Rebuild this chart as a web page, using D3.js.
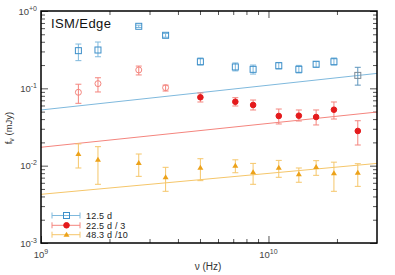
<!DOCTYPE html>
<html>
<head>
<meta charset="utf-8">
<script src="https://cdn.jsdelivr.net/npm/d3@7"></script>
<style>
  body { margin: 0; background: #fff; }
  text { font-family: "Liberation Sans", Arial, sans-serif; }
</style>
</head>
<body>
<svg id="chart" width="395" height="275"></svg>
<script>
// frequencies (Hz)
const freqs = [1.46e9, 1.78e9, 2.69e9, 3.53e9, 5.02e9, 7.15e9, 8.56e9, 1.11e10, 1.36e10, 1.62e10, 1.94e10, 2.47e10]

// 12.5 d
const blueVal = [0.307, 0.313, 0.634, 0.485, 0.221, 0.189, 0.176, 0.196, 0.176, 0.205, 0.221, 0.147]
const blueLo  = [0.228, 0.256, 0.612, 0.458, 0.200, 0.168, 0.153, 0.178, 0.158, 0.187, 0.200, 0.110]
const blueHi  = [0.374, 0.397, 0.656, 0.512, 0.247, 0.213, 0.200, 0.216, 0.198, 0.222, 0.247, 0.187]

// 22.5 d / 3
const redVal = [0.0889, 0.115, 0.173, 0.102, 0.0766, 0.0671, 0.0609, 0.0439, 0.0443, 0.0426, 0.0529, 0.0281]
const redLo  = [0.064, 0.0897, 0.149, 0.0923, 0.0666, 0.0591, 0.0525, 0.0346, 0.0378, 0.0336, 0.0401, 0.0185]
const redHi  = [0.113, 0.137, 0.194, 0.110, 0.087, 0.0757, 0.0706, 0.054, 0.0525, 0.0525, 0.0666, 0.0381]
const redOpen = [true, true, true, true, false, false, false, false, false, false, false, false]

// 48.3 d / 10
const orangeVal = [0.01415, 0.01194, 0.0108, 0.00707, 0.00941, 0.00998, 0.0082, 0.00941, 0.00773, 0.0096, 0.00796, 0.0081]
const orangeLo  = [0.00933, 0.00574, 0.00728, 0.00466, 0.0064, 0.0081, 0.00574, 0.00707, 0.0061, 0.0075, 0.00466, 0.0054]
const orangeHi  = [0.0191, 0.0176, 0.01415, 0.00952, 0.0123, 0.0119, 0.0107, 0.0117, 0.00933, 0.0116, 0.0111, 0.0106]

// model lines (read at the plot edges)
const modelNu = [1e9, 3e10]
const blueModel = [0.0525, 0.156]
const redModel = [0.0173, 0.0494]
const orangeModel = [0.00426, 0.0107]

const legendLabels = ["12.5 d", "22.5 d / 3", "48.3 d /10"]
const yTickExp = ["-3", "-2", "-1", "+0"]
const xTickExp = ["9", "10"]

const svg = d3.select("#chart")
const pLeft = 41, pRight = 377, pTop = 11, pBottom = 243

const x = d3.scaleLog().domain([1e9, 3e10]).range([pLeft, pRight])
const y = d3.scaleLog().domain([1e-3, 1]).range([pBottom, pTop])

const blue = "#3d8fc9", blueLight = "#7fb9dd"
const red = "#e41a1c", redLight = "#f4857e"
const orange = "#eca21a", orangeLight = "#f5c66a"
const grey = "#7d8c98"

// ticks
let yMajor = [1e-3, 1e-2, 1e-1, 1]
let yMinor = []
for (let e = -3; e < 0; e++) {
    for (let m = 2; m < 10; m++) yMinor.push(m * Math.pow(10, e))
}
let xMajor = [1e9, 1e10]
let xMinor = []
for (let m = 2; m < 10; m++) xMinor.push(m * 1e9)
xMinor.push(2e10)

function tickAxis(gen, vals, size, tx, ty) {
    let g = svg.append("g")
        .attr("transform", "translate(" + tx + "," + ty + ")")
        .call(gen.tickValues(vals).tickSize(size).tickFormat(""))
    g.select(".domain").remove()
    g.selectAll("line").attr("stroke", "#555").attr("stroke-width", 1)
}
tickAxis(d3.axisLeft(y), yMajor, -7, pLeft, 0)
tickAxis(d3.axisLeft(y), yMinor, -4, pLeft, 0)
tickAxis(d3.axisRight(y), yMajor, -7, pRight, 0)
tickAxis(d3.axisRight(y), yMinor, -4, pRight, 0)
tickAxis(d3.axisBottom(x), xMajor, -7, 0, pBottom)
tickAxis(d3.axisBottom(x), xMinor, -4, 0, pBottom)
tickAxis(d3.axisTop(x), xMajor, -7, 0, pTop)
tickAxis(d3.axisTop(x), xMinor, -4, 0, pTop)

// tick labels
yMajor.forEach((v, i) => {
    let t = svg.append("text")
        .attr("x", pLeft - 4)
        .attr("y", y(v) + 3.5)
        .attr("text-anchor", "end")
        .attr("font-size", 9.5)
        .attr("fill", "#444")
    t.append("tspan").text("10")
    t.append("tspan").attr("dy", -4).attr("font-size", 7).text(yTickExp[i])
})
xMajor.forEach((v, i) => {
    let t = svg.append("text")
        .attr("x", x(v))
        .attr("y", pBottom + 15)
        .attr("text-anchor", "middle")
        .attr("font-size", 9.5)
        .attr("fill", "#444")
    t.append("tspan").text("10")
    t.append("tspan").attr("dy", -4).attr("font-size", 7).text(xTickExp[i])
})

// axis titles
svg.append("text")
    .attr("x", 208).attr("y", 270)
    .attr("text-anchor", "middle")
    .attr("font-size", 10)
    .attr("fill", "#333")
    .text("ν (Hz)")
let yl = svg.append("text")
    .attr("transform", "translate(12," + 128 + ") rotate(-90)")
    .attr("text-anchor", "middle")
    .attr("font-size", 9.5)
    .attr("fill", "#333")
yl.append("tspan").text("f")
yl.append("tspan").attr("dy", 2).attr("font-size", 7).text("ν")
yl.append("tspan").attr("dy", -2).text(" (mJy)")

// clip
svg.append("clipPath").attr("id", "clip")
    .append("rect").attr("x", pLeft).attr("y", pTop)
    .attr("width", pRight - pLeft).attr("height", pBottom - pTop)
const plot = svg.append("g").attr("clip-path", "url(#clip)")

// model lines
const line = d3.line().x(d => x(d[0])).y(d => y(d[1]))
const models = [[blueModel, blueLight], [redModel, redLight], [orangeModel, orangeLight]]
models.forEach(m => {
    plot.append("path")
        .datum(modelNu.map((n, i) => [n, m[0][i]]))
        .attr("d", line)
        .attr("fill", "none")
        .attr("stroke", m[1])
        .attr("stroke-width", 1)
})

// error bars
function errorBars(vals, lo, hi, col, lastCol) {
    freqs.forEach((n, i) => {
        let cx = x(n)
        let c = (lastCol && i === freqs.length - 1) ? lastCol : col
        plot.append("line").attr("x1", cx).attr("x2", cx)
            .attr("y1", y(lo[i])).attr("y2", y(hi[i]))
            .attr("stroke", c).attr("stroke-width", 1)
        ;[lo[i], hi[i]].forEach(v => {
            plot.append("line").attr("x1", cx - 3).attr("x2", cx + 3)
                .attr("y1", y(v)).attr("y2", y(v))
                .attr("stroke", c).attr("stroke-width", 1)
        })
    })
}
errorBars(blueVal, blueLo, blueHi, blueLight, "#5d95bd")
errorBars(redVal, redLo, redHi, redLight)
errorBars(orangeVal, orangeLo, orangeHi, orangeLight)

// markers
function square(g, cx, cy, col) {
    g.append("rect").attr("x", cx - 3).attr("y", cy - 3)
        .attr("width", 6).attr("height", 6)
        .attr("fill", "none").attr("stroke", col || blue).attr("stroke-width", 1)
}
function circle(g, cx, cy, open) {
    g.append("circle").attr("cx", cx).attr("cy", cy).attr("r", open ? 3 : 2.8)
        .attr("fill", open ? "none" : red)
        .attr("stroke", open ? redLight : red).attr("stroke-width", 1)
}
function triangle(g, cx, cy) {
    g.append("path")
        .attr("d", "M" + cx + "," + (cy - 3) + "L" + (cx + 3) + "," + (cy + 2) + "L" + (cx - 3) + "," + (cy + 2) + "Z")
        .attr("fill", orange)
}
freqs.forEach((n, i) => {
    square(plot, x(n), y(blueVal[i]), i === freqs.length - 1 ? grey : blue)
    circle(plot, x(n), y(redVal[i]), redOpen[i])
    triangle(plot, x(n), y(orangeVal[i]))
})

// frame
svg.append("rect").attr("x", pLeft).attr("y", pTop)
    .attr("width", pRight - pLeft).attr("height", pBottom - pTop)
    .attr("fill", "none").attr("stroke", "#000").attr("stroke-width", 1.5)

// title
svg.append("text").attr("x", 51).attr("y", 28)
    .attr("font-size", 13).attr("letter-spacing", 0.4)
    .attr("fill", "#111").text("ISM/Edge")

// legend
const legendY = [215.5, 225.3, 234.7]
const legendCol = [blueLight, redLight, orangeLight]
legendLabels.forEach((lab, i) => {
    let ly = legendY[i]
    svg.append("line").attr("x1", 52).attr("x2", 80).attr("y1", ly).attr("y2", ly)
        .attr("stroke", legendCol[i]).attr("stroke-width", 1)
    ;[52, 80].forEach(xx => {
        svg.append("line").attr("x1", xx).attr("x2", xx).attr("y1", ly - 3).attr("y2", ly + 3)
            .attr("stroke", legendCol[i]).attr("stroke-width", 1)
    })
    if (i === 0) square(svg, 66.5, ly)
    if (i === 1) circle(svg, 66.5, ly, false)
    if (i === 2) triangle(svg, 66.5, ly)
    svg.append("text").attr("x", 86).attr("y", ly + 3.2)
        .attr("font-size", 9).attr("letter-spacing", 0.2)
        .attr("fill", "#222").text(lab)
})
</script>
</body>
</html>
